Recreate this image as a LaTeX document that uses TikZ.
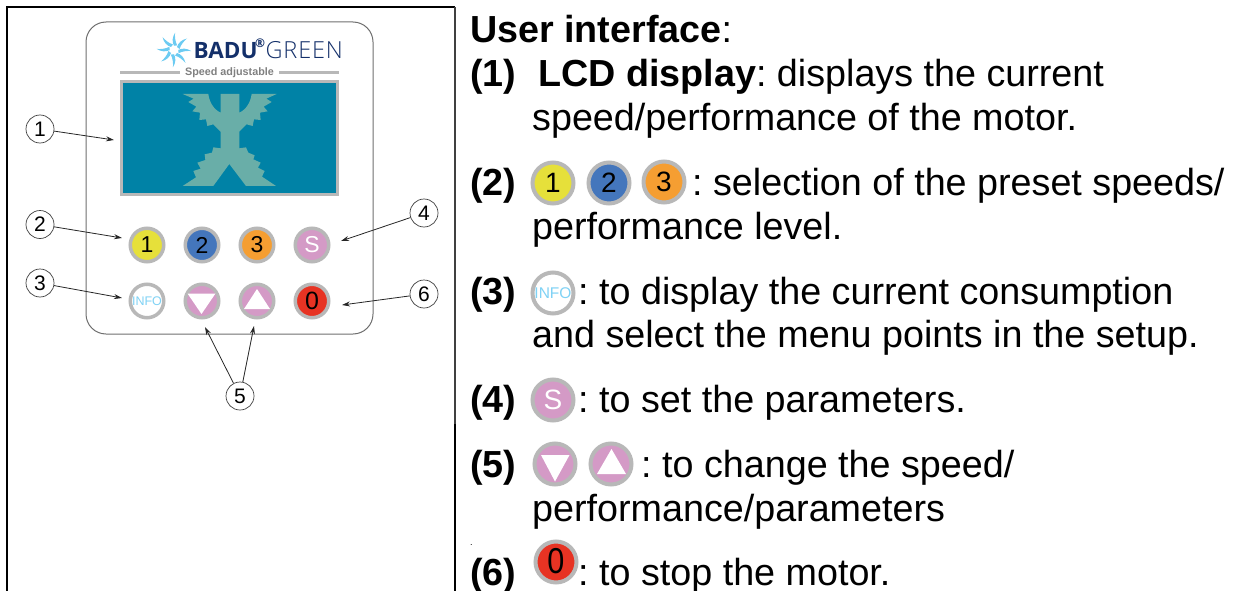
\documentclass[tikz,border=0pt]{standalone}
\usepackage{fontspec}
\setmainfont{Liberation Sans}
\newfontfamily\logofont{Open Sans}
\newfontfamily\logolight{Open Sans Light}
\usetikzlibrary{arrows.meta}
\frenchspacing
\definecolor{rimgray}{HTML}{B8B8B8}
\definecolor{btnyellow}{HTML}{E6E03A}
\definecolor{btnblue}{HTML}{4476BC}
\definecolor{btnorange}{HTML}{F59E32}
\definecolor{btnpink}{HTML}{D49AC6}
\definecolor{btnred}{HTML}{E73323}
\definecolor{lcdblue}{HTML}{0082A6}
\definecolor{lcdx}{HTML}{69AEA8}
\definecolor{infoblue}{HTML}{7FD2F5}
\definecolor{navy}{HTML}{14306A}
\definecolor{swirl}{HTML}{6CCBF2}
\definecolor{panelline}{HTML}{6E6E6E}
\tikzset{
  callout/.style={circle,draw=black!75,line width=0.7pt,fill=white,minimum size=28pt,inner sep=0pt,font=\fontsize{21}{21}\selectfont},
  leader/.style={draw=black!85,line width=0.8pt,-{Stealth[length=8pt,width=5pt]}},
  btnsmall/.style={circle,draw=rimgray,line width=3.5pt,minimum size=33.5pt,inner sep=0pt,font=\fontsize{23}{23}\selectfont},
  btnbig/.style={circle,draw=rimgray,line width=4pt,minimum size=41pt,inner sep=0pt,font=\fontsize{28}{28}\selectfont},
  body/.style={anchor=base west,inner sep=0pt,font=\fontsize{37.7}{38}\selectfont},
}
\newcommand{\swirlarm}[1]{\fill[swirl,rotate around={#1:(174,50)}] (177,47) .. controls (178,43) and (182,39.5) .. (187,38.5) .. controls (184,41) and (181,44.5) .. (179.5,49) -- cycle;}
\begin{document}
\begin{tikzpicture}[x=1pt,y=-1pt]
\useasboundingbox (0,0) rectangle (1249,591);
% table rules
\draw[line width=2.4pt] (7,591) -- (7,7) -- (455,7);
\draw[line width=1.3pt,black!75] (455,7) -- (455,424);
\draw[line width=2.2pt] (455,424) -- (455,591);
% panel
\draw[panelline,line width=1pt,rounded corners=20pt] (86,22) rectangle (373,334);
% logo
\foreach \a in {0,45,...,315} {\swirlarm{\a}}
\node[anchor=base west,inner sep=0pt,text=navy,font=\logofont\bfseries\fontsize{22.5}{23}\selectfont] (badu) at (193.5,59) {BADU};
\node[anchor=base west,inner sep=0pt,text=navy,font=\logofont\bfseries\fontsize{12}{12}\selectfont] (reg) at (255,48) {®};
\node[anchor=base west,inner sep=0pt,text=navy,font=\logolight\fontsize{23.5}{24}\selectfont] (green) at (265.5,59) {G\kern0.8pt R\kern0.8pt E\kern0.8pt E\kern0.8pt N};
\draw[rimgray,line width=2.4pt] (120,72.5) -- (180,72.5) (279,72.5) -- (339,72.5);
\node[inner sep=0pt,text=black!50,font=\bfseries\fontsize{10.8}{11}\selectfont] (speed) at (229.5,72.5) {Speed adjustable};
% LCD
\draw[rimgray,line width=3pt,fill=lcdblue] (121.5,81.7) rectangle (337.8,194.7);
\begin{scope}[shift={(100,70)},x=0.3333pt,y=-0.3333pt]
\fill[lcdx] (362,72) -- (418,72) -- (418,128) .. controls (440,118) and (452,95) .. (455,72) -- (530,72)
 -- (499,86) -- (515,96) -- (491,110) -- (503,124) -- (480,128) -- (482,150) -- (462,148) -- (458,168) -- (440,163) -- (418,185)
 -- (418,235) -- (438,232) -- (445,248) -- (464,256) -- (460,268) -- (482,278) -- (474,293) -- (494,303) -- (486,320) -- (528,348)
 -- (438,348) -- (388,282) -- (340,348) -- (248,348) -- (288,322) -- (280,303) -- (302,296) -- (292,278) -- (316,270) -- (314,253) -- (336,248) -- (340,232) -- (362,235)
 -- (362,185) -- (340,163) -- (322,168) -- (318,148) -- (298,150) -- (300,128) -- (277,124) -- (289,110) -- (265,96) -- (281,86) -- (248,72)
 -- (325,72) .. controls (328,95) and (340,118) .. (362,128) -- cycle;
\end{scope}
% panel buttons
\node[btnsmall,fill=btnyellow] (b1) at (147,245) {1};
\node[btnsmall,fill=btnblue] (b2) at (202,245) {2};
\node[btnsmall,fill=btnorange] (b3) at (257,245) {3};
\node[btnsmall,fill=btnpink,text=white] (bs) at (312,245) {S};
\node[btnsmall,fill=white,text=infoblue,font=\fontsize{12.5}{13}\selectfont] (binfo) at (147,301) {INFO};
\node[btnsmall,fill=btnpink] (bdown) at (202,301) {};
\node[btnsmall,fill=btnpink] (bup) at (257,301) {};
\node[btnsmall,fill=btnred,font=\fontsize{25}{25}\selectfont] (b0) at (312,301) {0};
\fill[white] (187.5,293.5) -- (215.5,293.5) -- (201.5,314) -- cycle;
\fill[white] (244,309) -- (270,309) -- (257,289) -- cycle;
% callouts
\node[callout] (n1) at (40,129) {1};
\node[callout] (n2) at (40,224.5) {2};
\node[callout] (n3) at (40,283) {3};
\node[callout] (n4) at (424,213) {4};
\node[callout] (n5) at (240,396) {5};
\node[callout] (n6) at (424,294) {6};
\coordinate (t1) at (114,140);
\coordinate (t2) at (122,238);
\coordinate (t3) at (122,298);
\coordinate (t4) at (341,241);
\coordinate (t5a) at (205,327);
\coordinate (t5b) at (254,326);
\coordinate (t6) at (342,305);
\path[leader] (n1) -- (t1);
\path[leader] (n2) -- (t2);
\path[leader] (n3) -- (t3);
\path[leader] (n4) -- (t4);
\path[leader] (n5) -- (t5a);
\path[leader] (n5) -- (t5b);
\path[leader] (n6) -- (t6);
% right column text
\node[body] (title) at (470,43) {\textbf{User interface}:};
\node[body] (l1) at (470,87) {\textbf{(1)}};
\node[body] (l1b) at (538,87) {\textbf{LCD display}: displays the current};
\node[body] (l1c) at (532,131) {speed/performance of the motor.};
\node[body] (l2) at (470,195) {\textbf{(2)}};
\node[btnbig,fill=btnyellow] (i1) at (553,183) {1};
\node[btnbig,fill=btnblue] (i2) at (609,183) {2};
\node[btnbig,fill=btnorange] (i3) at (664,182) {3};
\node[body] (l2b) at (692,195) {: selection of the preset speeds/};
\node[body] (l2c) at (532,239) {performance level.};
\node[body] (l3) at (470,304) {\textbf{(3)}};
\node[btnbig,fill=white,text=infoblue,font=\fontsize{15.5}{16}\selectfont] (iinfo) at (553,293) {INFO};
\node[body] (l3b) at (578,304) {: to display the current consumption};
\node[body] (l3c) at (532,347) {and select the menu points in the setup.};
\node[body] (l4) at (470,412) {\textbf{(4)}};
\node[btnbig,fill=btnpink,text=white] (is) at (553,400) {S};
\node[body] (l4b) at (578,412) {: to set the parameters.};
\node[body] (l5) at (470,477) {\textbf{(5)}};
\node[btnbig,fill=btnpink] (idown) at (555,464) {};
\node[btnbig,fill=btnpink] (iup) at (611,464) {};
\fill[white] (541,455) -- (569.5,455) -- (555,481.5) -- cycle;
\fill[white] (597,474) -- (626,474) -- (611.5,449) -- cycle;
\node[body] (l5b) at (641,477) {: to change the speed/};
\node[body] (l5c) at (532,521) {performance/parameters};
\node[anchor=base west,inner sep=0pt,font=\fontsize{9}{9}\selectfont] (dot) at (470,545) {.};
\node[body] (l6) at (470,585) {\textbf{(6)}};
\node[btnbig,fill=btnred,font=\fontsize{36}{36}\selectfont] (i0) at (556,562) {\raisebox{3pt}{\scalebox{0.85}[1]{0}}};
\node[body] (l6b) at (578,585) {: to stop the motor.};
\end{tikzpicture}
\end{document}
